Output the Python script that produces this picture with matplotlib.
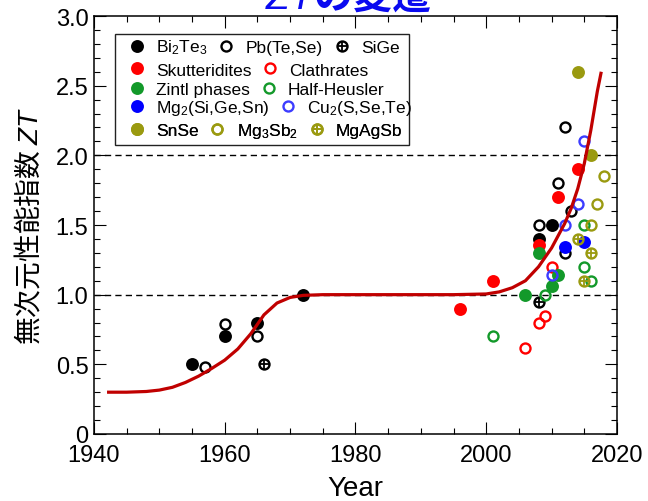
import matplotlib
matplotlib.use('Agg')
import matplotlib.pyplot as plt
from matplotlib.legend_handler import HandlerTuple
from matplotlib.patches import Rectangle
from matplotlib.ticker import MultipleLocator, FuncFormatter

plt.rcParams['font.family'] = ['Liberation Sans', 'DejaVu Sans']
plt.rcParams['mathtext.fontset'] = 'custom'
plt.rcParams['mathtext.rm'] = 'Liberation Sans'
plt.rcParams['mathtext.it'] = 'Liberation Sans:italic'
plt.rcParams['mathtext.bf'] = 'Liberation Sans:bold'

# ZT の推移（材料ごと）
bi2te3_year = [1955, 1960, 1965, 1972, 2008, 2010]
bi2te3_zt = [0.50, 0.70, 0.80, 1.00, 1.40, 1.50]

pbtese_year = [1957, 1960, 1965, 2008, 2011, 2012, 2012, 2013]
pbtese_zt = [0.48, 0.79, 0.70, 1.50, 1.80, 2.20, 1.30, 1.60]

sige_year = [1966, 2008]
sige_zt = [0.50, 0.95]

skutt_year = [1996, 2001, 2008, 2011, 2014]
skutt_zt = [0.90, 1.10, 1.36, 1.70, 1.90]

clath_year = [2006, 2008, 2009, 2010]
clath_zt = [0.62, 0.80, 0.85, 1.20]

zintl_year = [2006, 2008, 2010, 2011]
zintl_zt = [1.00, 1.30, 1.06, 1.14]

hh_year = [2001, 2009, 2015, 2015, 2016]
hh_zt = [0.70, 1.00, 1.50, 1.20, 1.10]

mg2_year = [2012, 2015]
mg2_zt = [1.34, 1.38]

cu2_year = [2010, 2012, 2014, 2015]
cu2_zt = [1.14, 1.50, 1.65, 2.10]

snse_year = [2014, 2016]
snse_zt = [2.60, 2.00]

mg3sb2_year = [2016, 2017, 2018]
mg3sb2_zt = [1.50, 1.65, 1.85]

mgagsb_year = [2014, 2015, 2016]
mgagsb_zt = [1.40, 1.10, 1.30]

# トレンド曲線
trend_year = [1942, 1945, 1948, 1950, 1952, 1954, 1956, 1958, 1960, 1962,
              1964, 1966, 1968, 1970, 1972, 1975, 1995, 2000, 2002, 2004,
              2006, 2008, 2010, 2012, 2013, 2014, 2015, 2016, 2017, 2017.6]
trend_zt = [0.30, 0.30, 0.305, 0.315, 0.335, 0.37, 0.415, 0.47, 0.53, 0.61,
            0.72, 0.855, 0.94, 0.98, 0.995, 1.0, 1.0, 1.005, 1.02, 1.05,
            1.10, 1.20, 1.335, 1.51, 1.62, 1.76, 1.94, 2.18, 2.46, 2.60]

BLACK = '#000000'
RED = '#ff0000'
GREEN = '#13992a'
BLUE = '#0000ff'
BLUE_OPEN = '#3c3cff'
OLIVE = '#9a9a10'

fig = plt.figure(figsize=(6.48, 5.02), dpi=100)
ax = fig.add_axes([0.145, 0.1335, 0.8071, 0.8326])


def draw(x, y, color, kind):
    if kind == 'fill':
        h = ax.plot(x, y, 'o', ls='none', ms=9.3, mfc=color, mec=color,
                    mew=0, zorder=3)[0]
        return h
    ring = ax.plot(x, y, 'o', ls='none', ms=7.2, mfc='none', mec=color,
                   mew=1.7, zorder=3)[0]
    if kind == 'open':
        return ring
    plus = ax.plot(x, y, '+', ls='none', ms=7.5, mec=color, mew=1.3,
                   zorder=3)[0]
    return (ring, plus)


h_bi = draw(bi2te3_year, bi2te3_zt, BLACK, 'fill')
h_pb = draw(pbtese_year, pbtese_zt, BLACK, 'open')
h_sige = draw(sige_year, sige_zt, BLACK, 'cross')
h_sk = draw(skutt_year, skutt_zt, RED, 'fill')
h_cl = draw(clath_year, clath_zt, RED, 'open')
h_zi = draw(zintl_year, zintl_zt, GREEN, 'fill')
h_hh = draw(hh_year, hh_zt, GREEN, 'open')
h_mg2 = draw(mg2_year, mg2_zt, BLUE, 'fill')
h_cu = draw(cu2_year, cu2_zt, BLUE_OPEN, 'open')
h_sn = draw(snse_year, snse_zt, OLIVE, 'fill')
h_mg3 = draw(mg3sb2_year, mg3sb2_zt, OLIVE, 'open')
h_ag = draw(mgagsb_year, mgagsb_zt, OLIVE, 'cross')

ax.plot(trend_year, trend_zt, color='#c00000', lw=2.3, zorder=4,
        solid_capstyle='butt')

for level in (1.0, 2.0):
    ax.axhline(level, color='k', lw=1.0, ls=(0, (4.5, 3)), zorder=1)

ax.set_xlim(1940, 2020)
ax.set_ylim(0, 3.0)
ax.xaxis.set_major_locator(MultipleLocator(20))
ax.xaxis.set_minor_locator(MultipleLocator(5))
ax.yaxis.set_major_locator(MultipleLocator(0.5))
ax.yaxis.set_minor_locator(MultipleLocator(0.1))
ax.yaxis.set_major_formatter(FuncFormatter(lambda v, p: '0' if v == 0 else f'{v:.1f}'))
ax.tick_params(which='both', direction='in', top=True, right=True,
               width=0.8, labelsize=17)
ax.tick_params(axis='x', pad=7)
ax.tick_params(axis='y', pad=4)
ax.tick_params(which='major', length=8.5)
ax.tick_params(which='minor', length=4.3)
for s in ax.spines.values():
    s.set_linewidth(1.1)

ax.set_xlabel('Year', fontsize=20, labelpad=7)
ax.set_ylabel('無次元性能指数 $ZT$', fontsize=20, family='Noto Sans CJK JP',
              labelpad=8)

fig.text(0.537, 1 - 9 / 502, '$ZT$の変遷', ha='center', va='baseline',
         fontsize=28, color='#0a0af0', family='Noto Sans CJK JP',
         weight='bold')

# 凡例（行ごとに配置して枠で囲む）
ax.add_patch(Rectangle((0.040, 0.691), 0.562, 0.266, transform=ax.transAxes,
                       facecolor='white', edgecolor='#222222', lw=1.0,
                       zorder=5))

rows = [
    ([h_bi, h_pb, h_sige], ['Bi$_\\mathrm{2}$Te$_\\mathrm{3}$', 'Pb(Te,Se)', 'SiGe']),
    ([h_sk, h_cl], ['Skutteridites', 'Clathrates']),
    ([h_zi, h_hh], ['Zintl phases', 'Half-Heusler']),
    ([h_mg2, h_cu], ['Mg$_\\mathrm{2}$(Si,Ge,Sn)', 'Cu$_\\mathrm{2}$(S,Se,Te)']),
    ([h_sn, h_mg3, h_ag], ['SnSe', 'Mg$_\\mathrm{3}$Sb$_\\mathrm{2}$', 'MgAgSb']),
]
row_y = [0.926, 0.871, 0.825, 0.780, 0.727]

for (handles, labels), y in zip(rows, row_y):
    leg = ax.legend(handles, labels, ncol=len(handles), loc='center left',
                    bbox_to_anchor=(0.065, y), frameon=False, fontsize=12.5,
                    handlelength=1.0, handletextpad=0.6, columnspacing=0.6,
                    borderpad=0, borderaxespad=0,
                    handler_map={tuple: HandlerTuple(ndivide=1, pad=0)})
    leg.set_zorder(6)
    ax.add_artist(leg)

fig.savefig('out.png', dpi=100)
